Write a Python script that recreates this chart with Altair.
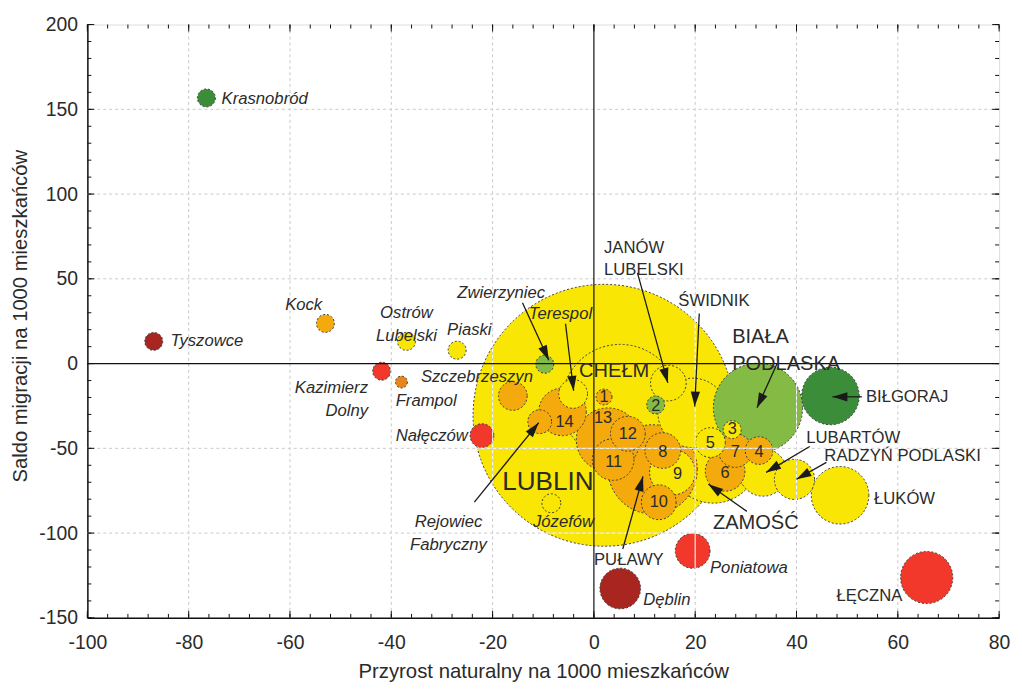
import math
import altair as alt
import pandas as pd

# ---------------- data ----------------
nazwy = ["Lublin", "Chełm", "Zamość", "Puławy", "Świdnik", "Biała Podlaska",
         "Biłgoraj", "Łuków", "Łęczna", "Lubartów", "Radzyń Podlaski", "Dęblin",
         "Poniatowa", "Janów Lubelski", "13", "14", "11", "9", "6", "12", "8",
         "10", "7", "5", "4", "3", "2", "1", "Szczebrzeszyn", "Terespol",
         "Rejowiec Fabryczny", "Nałęczów", "Zwierzyniec", "Józefów",
         "Kazimierz Dolny", "Frampol", "Krasnobród", "Tyszowce", "Kock",
         "Ostrów Lubelski", "Piaski"]
przyrost = [2.0, 5.2, 23.6, 11.6, 19.5, 32.4,
            46.7, 48.6, 65.7, 33.4, 39.6, 5.2,
            19.5, 14.7, 2.8, -6.2, 3.8, 15.5, 25.9, 6.7, 13.6,
            12.8, 27.9, 23.0, 32.6, 27.3, 12.2, 2.0, -16.0, -4.1,
            -10.7, -22.1, -9.7, -8.4,
            -41.9, -38.0, -76.5, -86.9, -53.0,
            -37.0, -27.0]
saldo = [-30.5, -23.2, -55.4, -62.4, -29.1, -26.1,
         -19.1, -77.7, -126.2, -64.2, -68.3, -132.7,
         -110.5, -11.5, -44.9, -28.5, -56.6, -64.1, -63.6, -41.4, -51.3,
         -81.8, -51.3, -46.6, -51.3, -39.0, -24.4, -19.7, -19.1, -17.9,
         -34.3, -42.5, -0.4, -82.4,
         -4.5, -10.9, 156.7, 13.1, 23.7,
         13.1, 7.9]
wielkosc = [340, 67.9, 41.3, 39.5, 23.9, 39.5,
            16.4, 16.4, 13.5, 11.2, 8.0, 8.2,
            6.0, 6.3, 20.0, 11.2, 8.6, 10.3, 7.8, 6.0, 6.3,
            6.0, 5.6, 4.4, 3.8, 1.6, 1.6, 1.25, 4.1, 4.1,
            2.8, 2.8, 1.6, 1.76,
            1.6, 0.7, 1.6, 1.6, 1.6,
            1.6, 1.6]
klasa = ["Y", "Y", "Y", "O", "Y", "LG",
         "DG", "Y", "R", "Y", "Y", "DR",
         "R", "Y", "O", "O", "O", "Y", "O", "O", "O",
         "O", "O", "Y", "O", "Y", "LG", "O", "O", "Y",
         "O", "R", "LG", "Y",
         "R", "DO", "DG", "DR", "O",
         "Y", "Y"]
klasy = ["Y", "O", "DO", "R", "DR", "LG", "DG"]
kolory = ["#f9e604", "#f4a90c", "#e8861e", "#f2382a", "#a82520", "#84bb45", "#3c8d3a"]

# labels: text, x, y, style, align
etykiety = [
    ("Krasnobród", -65.0, 155.9, "kursywa", "center"),
    ("Tyszowce", -76.4, 13.1, "kursywa", "center"),
    ("Kock", -57.3, 34.8, "kursywa", "center"),
    ("Ostrów\nLubelski", -37.0, 30.1, "kursywa", "center"),
    ("Piaski", -24.6, 19.6, "kursywa", "center"),
    ("Kazimierz\nDolny", -44.6, -14.5, "kursywa", "right"),
    ("Frampol", -33.1, -22.0, "kursywa", "center"),
    ("Szczebrzeszyn", -23.1, -7.9, "kursywa", "center"),
    ("Nałęczów", -32.0, -42.5, "kursywa", "center"),
    ("Zwierzyniec", -18.3, 41.8, "kursywa", "center"),
    ("Terespol", -6.6, 29.4, "kursywa", "center"),
    ("Rejowiec\nFabryczny", -28.7, -93.3, "kursywa", "center"),
    ("Józefów", -6.0, -93.6, "kursywa", "center"),
    ("Poniatowa", 30.6, -120.9, "kursywa", "center"),
    ("Dęblin", 14.4, -139.5, "kursywa", "center"),
    ("JANÓW\nLUBELSKI", 2.0, 68.1, "miasto", "left"),
    ("ŚWIDNIK", 23.7, 37.1, "miasto", "center"),
    ("BIŁGORAJ", 53.7, -19.5, "miasto", "left"),
    ("LUBARTÓW", 41.9, -44.2, "miasto", "left"),
    ("RADZYŃ PODLASKI", 45.5, -54.3, "miasto", "left"),
    ("ŁUKÓW", 55.3, -80.0, "miasto", "left"),
    ("PUŁAWY", 6.9, -116.1, "miasto", "center"),
    ("ŁĘCZNA", 54.4, -137.3, "miasto", "center"),
    ("BIAŁA\nPODLASKA", 27.3, 15.5, "duze", "left"),
    ("ZAMOŚĆ", 23.5, -94.0, "duze", "left"),
    ("CHEŁM", 4.0, -4.2, "duze", "center"),
    ("LUBLIN", -9.1, -70.0, "lublin", "center"),
    ("1", 2.0, -19.7, "numer", "center"),
    ("2", 12.2, -24.9, "numer", "center"),
    ("3", 27.3, -38.4, "numer", "center"),
    ("4", 32.6, -51.9, "numer", "center"),
    ("5", 23.0, -46.6, "numer", "center"),
    ("6", 25.9, -64.8, "numer", "center"),
    ("7", 27.9, -51.9, "numer", "center"),
    ("8", 13.6, -51.9, "numer", "center"),
    ("9", 16.5, -65.4, "numer", "center"),
    ("10", 12.8, -81.8, "numer", "center"),
    ("11", 3.9, -57.8, "numer", "center"),
    ("12", 6.7, -41.4, "numer", "center"),
    ("13", 1.8, -32.0, "numer", "center"),
    ("14", -5.8, -34.3, "numer", "center"),
]

# arrows: start x, start y, end x, end y
strzalki = [
    (-14.1, 35.9, -8.9, 2.0),      # Zwierzyniec
    (-5.6, 23.5, -4.0, -16.0),     # Terespol
    (8.6, 53.5, 14.6, -11.4),      # Janów Lubelski
    (20.8, 29.5, 19.9, -25.3),     # Świdnik
    (36.2, 0.2, 32.2, -26.1),      # Biała Podlaska
    (52.9, -19.6, 47.1, -19.6),    # Biłgoraj
    (42.6, -48.9, 34.0, -64.2),    # Lubartów
    (45.9, -58.3, 40.0, -68.2),    # Radzyń Podlaski
    (30.2, -87.2, 22.6, -71.2),    # Zamość
    (5.7, -109.4, 9.7, -66.5),     # Puławy
    (-23.6, -81.7, -10.9, -34.9),  # Rejowiec Fabryczny
]

x_etykiety = [-100, -80, -60, -40, -20, 0, 20, 40, 60, 80]
y_etykiety = [-150, -100, -50, 0, 50, 100, 150, 200]
siatka_x = [-80, -60, -40, -20, 20, 40, 60]
siatka_y = [-100, -50, 50, 100, 150]
x_male = list(range(-100, 81, 4))
y_male = list(range(-150, 201, 10))

# ---------------- layout ----------------
W, H = 919, 598
X_DOM = [-100, 80]
Y_DOM = [-150, 200]
SX = W / (X_DOM[1] - X_DOM[0])
SY = H / (Y_DOM[1] - Y_DOM[0])
R_MAX = 132  # radius (px) of the largest bubble
FONT = "Liberation Sans, Arial, sans-serif"
TXT = "#2b2b2b"

bubbles = pd.DataFrame({"miasto": nazwy, "przyrost": przyrost, "saldo": saldo,
                        "wielkosc": wielkosc, "klasa": klasa})

xs = alt.Scale(domain=X_DOM, nice=False, zero=False)
ys = alt.Scale(domain=Y_DOM, nice=False, zero=False)

x_axis = alt.Axis(values=x_etykiety, grid=False, ticks=False, domainColor="#111",
                  domainWidth=1.5, labelFont=FONT, labelFontSize=19.5, labelColor=TXT,
                  labelPadding=16, labelFlush=False, labelOverlap=False,
                  labelExpr="'' + datum.value",
                  title="Przyrost naturalny na 1000 mieszkańców", titleFont=FONT,
                  titleFontSize=20.5, titleFontWeight="normal", titleColor=TXT,
                  titleX=W / 2, titleY=60, titleAlign="center", titleBaseline="alphabetic")
y_axis = alt.Axis(values=y_etykiety, grid=False, ticks=False, domainColor="#111",
                  domainWidth=1.5, labelFont=FONT, labelFontSize=19.5, labelColor=TXT,
                  labelPadding=10, labelFlush=False, labelOverlap=False,
                  labelExpr="'' + datum.value",
                  title="Saldo migracji na 1000 mieszkańców", titleFont=FONT,
                  titleFontSize=20.4, titleFontWeight="normal", titleColor=TXT,
                  titleAngle=270, titleX=-61.5, titleY=293.5, titleAlign="center",
                  titleBaseline="alphabetic")


def X(f):
    return alt.X(f, scale=xs, axis=x_axis)


def Y(f):
    return alt.Y(f, scale=ys, axis=y_axis)


punkty = alt.Chart(bubbles).mark_circle(
    opacity=1, stroke="#3a3a3a", strokeWidth=1, strokeDash=[2, 2]
).encode(
    x=X("przyrost:Q"),
    y=Y("saldo:Q"),
    size=alt.Size("wielkosc:Q",
                  scale=alt.Scale(domain=[0, 340], range=[0, (2 * R_MAX) ** 2]),
                  legend=None),
    color=alt.Color("klasa:N", scale=alt.Scale(domain=klasy, range=kolory), legend=None),
)

# grid (white line with grey dashes), drawn over the bubbles
gx = pd.DataFrame({"v": siatka_x})
gy = pd.DataFrame({"v": siatka_y})
siatka = (
    alt.Chart(gx).mark_rule(color="white", strokeWidth=1).encode(x=X("v:Q"))
    + alt.Chart(gx).mark_rule(color="#c8c8c8", strokeWidth=1, strokeDash=[3, 3]).encode(x=X("v:Q"))
    + alt.Chart(gy).mark_rule(color="white", strokeWidth=1).encode(y=Y("v:Q"))
    + alt.Chart(gy).mark_rule(color="#c8c8c8", strokeWidth=1, strokeDash=[3, 3]).encode(y=Y("v:Q"))
)
zero = (
    alt.Chart(pd.DataFrame({"v": [0]})).mark_rule(color="#111", strokeWidth=1.2).encode(x=X("v:Q"))
    + alt.Chart(pd.DataFrame({"v": [0]})).mark_rule(color="#111", strokeWidth=1.2).encode(y=Y("v:Q"))
)

# arrows
rows = []
HEAD = 15.0
for (x0, y0, x1, y1) in strzalki:
    dxp = (x1 - x0) * SX
    dyp = -(y1 - y0) * SY
    L = math.hypot(dxp, dyp)
    ux, uy = dxp / L, dyp / L
    ang = math.degrees(math.atan2(dxp, -dyp)) % 360
    cx = x1 - ux * (HEAD / 2) / SX
    cy = y1 + uy * (HEAD / 2) / SY
    rows.append({"x0": x0, "y0": y0, "x1": x1, "y1": y1, "cx": cx, "cy": cy, "ang": ang})
arr = pd.DataFrame(rows)
linie = alt.Chart(arr).mark_rule(color="#1a1a1a", strokeWidth=1.3).encode(
    x=X("x0:Q"), y=Y("y0:Q"), x2="x1:Q", y2="y1:Q")
groty = alt.Chart(arr).mark_point(
    shape="M0,-1L0.62,1L-0.62,1Z", filled=True, color="#1a1a1a", opacity=1,
    size=HEAD * HEAD, strokeWidth=0
).encode(x=X("cx:Q"), y=Y("cy:Q"), angle=alt.Angle("ang:Q", scale=None))

# labels
lab = pd.DataFrame(etykiety, columns=["tekst", "lx", "ly", "styl", "wyr"])
style = {
    "kursywa": dict(fontSize=16.8, fontStyle="italic", lineHeight=23.5),
    "miasto": dict(fontSize=16.8, fontStyle="normal", lineHeight=22.5),
    "duze": dict(fontSize=20.2, fontStyle="normal", lineHeight=27),
    "lublin": dict(fontSize=26.3, fontStyle="normal", lineHeight=30),
    "numer": dict(fontSize=16.5, fontStyle="normal", lineHeight=20),
}
teksty = []
for (st, wy), _ in lab.groupby(["styl", "wyr"]):
    teksty.append(
        alt.Chart(lab).transform_filter(
            (alt.datum.styl == st) & (alt.datum.wyr == wy)
        ).mark_text(font=FONT, color=TXT, align=wy, baseline="middle", lineBreak="\n",
                    **style[st]).encode(x=X("lx:Q"), y=Y("ly:Q"), text="tekst:N")
    )


# inward ticks on all four sides
def ticks_x(vals, y_a, y_b):
    return alt.Chart(pd.DataFrame({"v": vals})).mark_rule(color="#111", strokeWidth=1).encode(
        x=X("v:Q"), y=alt.value(y_a), y2=alt.value(y_b))


def ticks_y(vals, x_a, x_b):
    return alt.Chart(pd.DataFrame({"v": vals})).mark_rule(color="#111", strokeWidth=1).encode(
        y=Y("v:Q"), x=alt.value(x_a), x2=alt.value(x_b))


kreski = (
    ticks_x(x_male, H, H - 4) + ticks_x(x_etykiety, H, H - 7)
    + ticks_x(x_male, 0, 4) + ticks_x(x_etykiety, 0, 7)
    + ticks_y(y_male, 0, 4) + ticks_y(y_etykiety, 0, 7)
    + ticks_y(y_male, W, W - 4) + ticks_y(y_etykiety, W, W - 7)
)

chart = alt.layer(punkty, siatka, zero, linie, groty, *teksty, kreski).properties(
    width=W, height=H,
    autosize=alt.AutoSizeParams(type="none"),
    padding={"left": 80, "top": 14, "right": 15, "bottom": 66},
).configure_view(fill="#ececec", stroke=None).configure(background="white")

chart.save("out.html", embed_options={"renderer": "svg", "actions": False})
